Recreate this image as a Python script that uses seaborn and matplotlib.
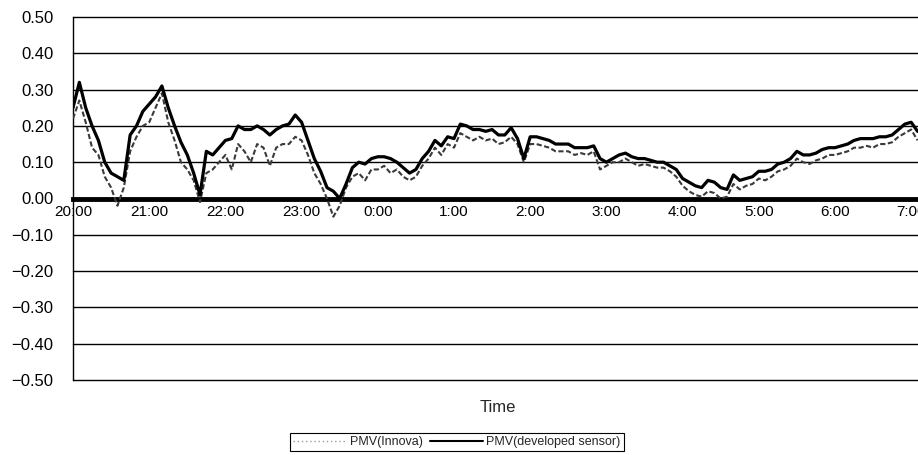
import numpy as np
import pandas as pd
import matplotlib
matplotlib.use("Agg")
import matplotlib.pyplot as plt
from matplotlib.lines import Line2D
import seaborn as sns

# ---- data (minutes after 20:00, 5-minute steps) ----
minutes = list(range(0, 670, 5))

pmv_sensor = [
    0.25, 0.32, 0.25, 0.20, 0.16, 0.10, 0.07, 0.06, 0.05, 0.175,
    0.20, 0.24, 0.26, 0.28, 0.31, 0.25, 0.20, 0.155, 0.12, 0.07,
    0.01, 0.13, 0.12, 0.14, 0.16, 0.165, 0.20, 0.19, 0.19, 0.20,
    0.19, 0.175, 0.19, 0.20, 0.205, 0.23, 0.21, 0.16, 0.11, 0.075,
    0.03, 0.02, 0.00, 0.04, 0.085, 0.10, 0.095, 0.11, 0.115, 0.115,
    0.11, 0.10, 0.085, 0.07, 0.08, 0.11, 0.13, 0.16, 0.145, 0.17,
    0.165, 0.205, 0.20, 0.19, 0.19, 0.185, 0.19, 0.175, 0.175, 0.195,
    0.165, 0.11, 0.17, 0.17, 0.165, 0.16, 0.15, 0.15, 0.15, 0.14,
    0.14, 0.14, 0.145, 0.11, 0.10, 0.11, 0.12, 0.125, 0.115, 0.11,
    0.11, 0.105, 0.10, 0.10, 0.09, 0.08, 0.055, 0.045, 0.035, 0.03,
    0.05, 0.045, 0.03, 0.025, 0.065, 0.05, 0.055, 0.06, 0.075, 0.075,
    0.08, 0.095, 0.10, 0.11, 0.13, 0.12, 0.12, 0.125, 0.135, 0.14,
    0.14, 0.145, 0.15, 0.16, 0.165, 0.165, 0.165, 0.17, 0.17, 0.175,
    0.19, 0.205, 0.21, 0.185,
]

pmv_innova = [
    0.22, 0.27, 0.21, 0.14, 0.12, 0.06, 0.03, -0.02, 0.03, 0.13,
    0.17, 0.20, 0.21, 0.25, 0.29, 0.21, 0.16, 0.10, 0.08, 0.05,
    -0.01, 0.07, 0.08, 0.10, 0.12, 0.08, 0.15, 0.13, 0.10, 0.15,
    0.14, 0.09, 0.14, 0.15, 0.15, 0.17, 0.16, 0.12, 0.07, 0.04,
    0.00, -0.05, -0.02, 0.03, 0.06, 0.07, 0.05, 0.08, 0.08, 0.09,
    0.07, 0.08, 0.06, 0.05, 0.06, 0.09, 0.11, 0.14, 0.12, 0.15,
    0.14, 0.18, 0.17, 0.16, 0.17, 0.16, 0.165, 0.15, 0.155, 0.17,
    0.15, 0.10, 0.15, 0.15, 0.145, 0.14, 0.13, 0.13, 0.13, 0.12,
    0.125, 0.12, 0.13, 0.08, 0.09, 0.10, 0.10, 0.11, 0.10, 0.09,
    0.095, 0.09, 0.085, 0.085, 0.075, 0.06, 0.035, 0.02, 0.01, 0.005,
    0.02, 0.015, 0.00, 0.005, 0.04, 0.025, 0.035, 0.04, 0.055, 0.05,
    0.06, 0.075, 0.08, 0.09, 0.11, 0.10, 0.095, 0.105, 0.11, 0.12,
    0.12, 0.125, 0.13, 0.14, 0.14, 0.145, 0.14, 0.15, 0.15, 0.155,
    0.17, 0.18, 0.19, 0.16,
]

hour_labels = ["20:00", "21:00", "22:00", "23:00", "0:00", "1:00", "2:00",
               "3:00", "4:00", "5:00", "6:00", "7:00"]
y_ticks = [-0.5, -0.4, -0.3, -0.2, -0.1, 0.0, 0.1, 0.2, 0.3, 0.4, 0.5]

# ---- style ----
sns.set_theme(style="white")
plt.rcParams["font.family"] = ["Liberation Sans", "DejaVu Sans"]

W, H = 918, 455
fig = plt.figure(figsize=(W / 100, H / 100), dpi=100)
ax = fig.add_axes([73 / W, 75 / H, 845 / W, 363 / H])

df = pd.DataFrame({
    "hours": np.array(minutes) / 60.0,
    "innova": pmv_innova,
    "sensor": pmv_sensor,
})

sns.lineplot(data=df, x="hours", y="innova", ax=ax, color="#3a3a3a",
             linewidth=1.5, linestyle=(0, (2.5, 1.2)), zorder=3)
sns.lineplot(data=df, x="hours", y="sensor", ax=ax, color="black",
             linewidth=2.3, zorder=4)

ax.set_xlim(0, 845 / 76.2)
ax.set_ylim(-0.5, 0.5)
ax.set_yticks(y_ticks)
ax.set_yticklabels([f"{v:.2f}".replace("-", "\u2212") if abs(v) > 1e-9 else "0.00"
                    for v in y_ticks], fontsize=12)
ax.set_xticks(range(len(hour_labels)))
ax.set_xticklabels(hour_labels, fontsize=12)
ax.set_xticks(np.arange(0, 11.1, 0.2), minor=True)

ax.yaxis.grid(True, color="black", linewidth=1.0, zorder=1)
ax.xaxis.grid(False)
ax.set_axisbelow(True)
for gl in ax.get_ygridlines():
    gl.set_clip_on(False)

for side in ["top", "right"]:
    ax.spines[side].set_visible(False)
ax.spines["left"].set_color("black")
ax.spines["left"].set_linewidth(1.0)
ax.spines["bottom"].set_position(("data", 0))
ax.spines["bottom"].set_color("black")
ax.spines["bottom"].set_linewidth(3.5)
ax.spines["bottom"].set_zorder(2)

ax.tick_params(axis="y", length=0, pad=14, colors="black")
ax.tick_params(axis="x", which="both", direction="inout", length=6, width=1,
               color="black", pad=2, labelcolor="black")
ax.tick_params(axis="x", which="minor", length=5)

ax.set_xlabel("")
ax.set_ylabel("")
fig.text(498 / W, 1 - 407 / H, "Time", ha="center", va="center", fontsize=12)

handles = [
    Line2D([], [], color="#9a9a9a", linestyle=(0, (1, 2)), linewidth=1.0),
    Line2D([], [], color="black", linewidth=1.5),
]
leg = fig.legend(handles, ["PMV(Innova)", "PMV(developed sensor)"],
                 loc="center", bbox_to_anchor=(457 / W, 1 - 442 / H), ncol=2,
                 fontsize=9, handlelength=4.2, handletextpad=0.3,
                 columnspacing=0.6, borderpad=0.25, frameon=True, fancybox=False)
leg.get_frame().set_edgecolor("black")
leg.get_frame().set_linewidth(0.8)
leg.get_frame().set_alpha(1)

fig.savefig("out.png", dpi=100)
